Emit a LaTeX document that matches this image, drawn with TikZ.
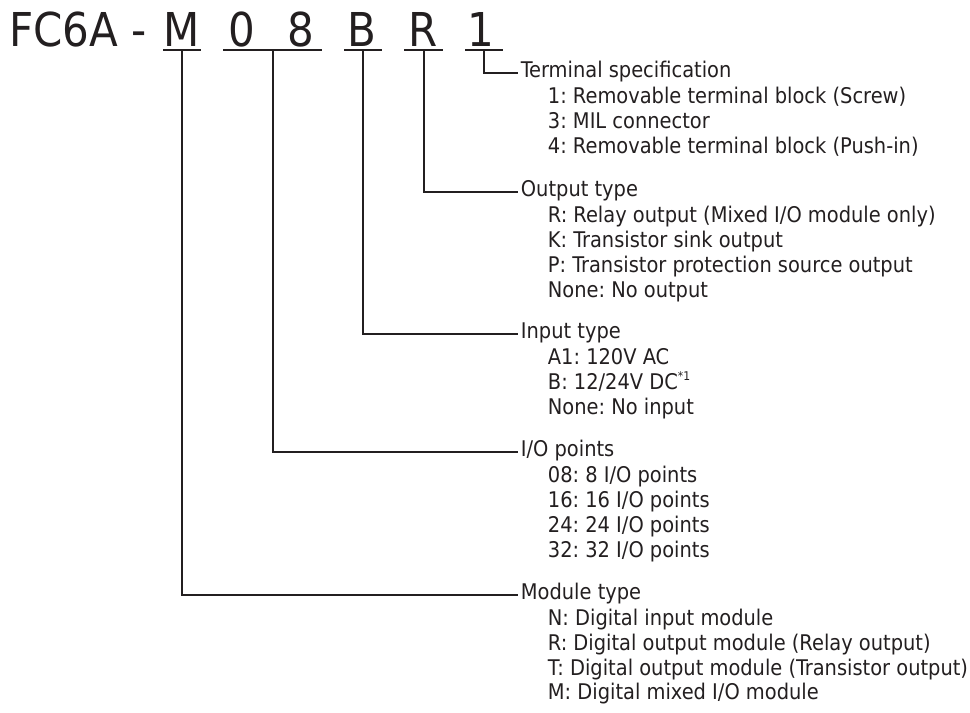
\documentclass[tikz,border=0pt]{standalone}
\usepackage{fontspec}
\IfFontExistsTF{DejaVu Sans Condensed}{\setmainfont{DejaVu Sans Condensed}}{\setmainfont{DejaVu Sans}}
\definecolor{ink}{HTML}{231F20}
\frenchspacing
\begin{document}
\begin{tikzpicture}[x=0.75pt,y=-0.75pt,
  ln/.style={draw=ink, line width=0.9pt},
  big/.style={font=\fontsize{35}{40}\selectfont, text=ink, inner sep=0pt, anchor=base},
  hdr/.style={font=\fontsize{16.2}{19}\selectfont, text=ink, inner ysep=0pt, inner xsep=2pt,
              text height=0.73em, text depth=0pt, anchor=west},
  itm/.style={hdr}]
\useasboundingbox (0,0) rectangle (970,713);

% title
\node[big, anchor=base west] (pre) at (9,47) {FC6A -};
\node[big] (m) at (182,47) {M};
\node[big] (z) at (241.5,47) {0};
\node[big] (e) at (300.5,47) {8};
\node[big] (b) at (361.5,47) {B};
\node[big] (r) at (423.5,47) {R};
\node[big] (one) at (481,47) {1};

% underlines
\coordinate (mu) at (182,50);
\coordinate (iou) at (273,50);
\coordinate (bu) at (363,50);
\coordinate (ru) at (424,50);
\coordinate (oneu) at (484,50);
\draw[ln] (163,50) -- (201,50);
\draw[ln] (223,50) -- (322,50);
\draw[ln] (344,50) -- (382,50);
\draw[ln] (404,50) -- (443,50);
\draw[ln] (465,50) -- (503,50);

% headers
\node[hdr] (ts) at (518,73) {Terminal specification};
\node[hdr] (ot) at (518,192) {Output type};
\node[hdr] (it) at (518,334) {Input type};
\node[hdr] (io) at (518,452) {I/O points};
\node[hdr] (mt) at (518,595) {Module type};

% connectors
\draw[ln] (oneu) |- (ts.west);
\draw[ln] (ru) |- (ot.west);
\draw[ln] (bu) |- (it.west);
\draw[ln] (iou) |- (io.west);
\draw[ln] (mu) |- (mt.west);

% items
\node[itm] (ts1) at (545,99) {1: Removable terminal block (Screw)};
\node[itm] (ts2) at (545,124) {3: MIL connector};
\node[itm] (ts3) at (545,149) {4: Removable terminal block (Push-in)};

\node[itm] (ot1) at (545,218) {R: Relay output (Mixed I/O module only)};
\node[itm] (ot2) at (545,243) {K: Transistor sink output};
\node[itm] (ot3) at (545,268) {P: Transistor protection source output};
\node[itm] (ot4) at (545,293) {None: No output};

\node[itm] (it1) at (545,360) {A1: 120V AC};
\node[itm] (it2) at (545,385) {B: 12/24V DC\raisebox{0.42em}{\fontsize{9}{9}\selectfont *1}};
\node[itm] (it3) at (545,410) {None: No input};

\node[itm] (io1) at (545,478) {08: 8 I/O points};
\node[itm] (io2) at (545,503) {16: 16 I/O points};
\node[itm] (io3) at (545,528) {24: 24 I/O points};
\node[itm] (io4) at (545,553) {32: 32 I/O points};

\node[itm] (mt1) at (545,621) {N: Digital input module};
\node[itm] (mt2) at (545,646) {R: Digital output module (Relay output)};
\node[itm] (mt3) at (545,671) {T: Digital output module (Transistor output)};
\node[itm] (mt4) at (545,695) {M: Digital mixed I/O module};
\end{tikzpicture}
\end{document}
